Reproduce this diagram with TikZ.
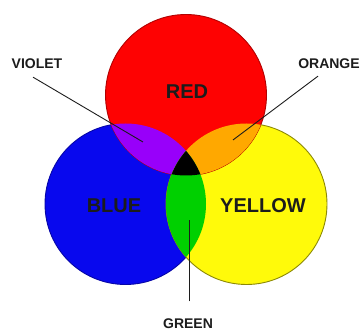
\documentclass[tikz,border=0pt]{standalone}
\usepackage{fontspec}
\setmainfont{Liberation Sans}
\usepackage{tikz}
\usetikzlibrary{positioning,calc}

\definecolor{pRed}{RGB}{254,2,2}
\definecolor{pBlue}{RGB}{8,8,238}
\definecolor{pYellow}{RGB}{255,250,10}
\definecolor{pViolet}{RGB}{152,0,250}
\definecolor{pOrange}{RGB}{255,168,0}
\definecolor{pGreen}{RGB}{0,208,0}
\definecolor{pInk}{RGB}{28,28,28}

\begin{document}
\begin{tikzpicture}[x=1pt, y=1pt]
        \tikzset{
            disc/.style={line width=0.9pt},
            biglabel/.style={inner sep=0pt, text=pInk, font=\fontsize{20}{22}\selectfont\bfseries},
            smalllabel/.style={inner sep=0pt, text=pInk, font=\fontsize{14}{16}\selectfont\bfseries},
            pointer/.style={draw=pInk, line width=0.9pt},
        }
        \useasboundingbox (0,0) rectangle (362,332);

        % Circle centres
        \coordinate (cred) at (186,237);
        \coordinate (cblue) at (125.5,128);
        \coordinate (cyellow) at (246.5,128);
        \def\rad{80.5}

        % Primary discs
        \fill [pBlue] (cblue) circle (\rad);
        \draw [disc, draw=pBlue!70!black] (cblue) circle (\rad);
        \fill [pYellow] (cyellow) circle (\rad);
        \draw [disc, draw=pYellow!55!black] (cyellow) circle (\rad);
        \fill [pRed] (cred) circle (\rad);
        \draw [disc, draw=pRed!70!black] (cred) circle (\rad);

        % Overlaps
        \begin{scope}
            \clip (cred) circle (\rad);
            \fill [pViolet] (cblue) circle (\rad);
            \fill [pOrange] (cyellow) circle (\rad);
        \end{scope}
        \begin{scope}
            \clip (cblue) circle (\rad);
            \fill [pGreen] (cyellow) circle (\rad);
        \end{scope}
        \begin{scope}
            \clip (cred) circle (\rad);
            \clip (cblue) circle (\rad);
            \fill [black] (cyellow) circle (\rad);
        \end{scope}

        % Primary names
        \node [biglabel] (lred) at (187,240) {RED};
        \node [biglabel] (lblue) at (114,126) {BLUE};
        \node [biglabel] (lyellow) at (263,126) {YELLOW};

        % Secondary names
        \node [smalllabel] (lviolet) at (37,268) {VIOLET};
        \node [smalllabel] (lorange) at (329,268) {ORANGE};
        \node [smalllabel] (lgreen) at (188,8.5) {GREEN};

        % Pointers
        \coordinate (pviolet) at (143,190);
        \coordinate (porange) at (233,192);
        \coordinate (pgreen) at (189,112);
        \draw [pointer] ([xshift=-4pt, yshift=-8pt]lviolet.south) -- (pviolet);
        \draw [pointer] ([xshift=-11pt, yshift=-7pt]lorange.south) -- (porange);
        \draw [pointer] ([xshift=1pt, yshift=17pt]lgreen.north) -- (pgreen);
    \end{tikzpicture}
\end{document}
